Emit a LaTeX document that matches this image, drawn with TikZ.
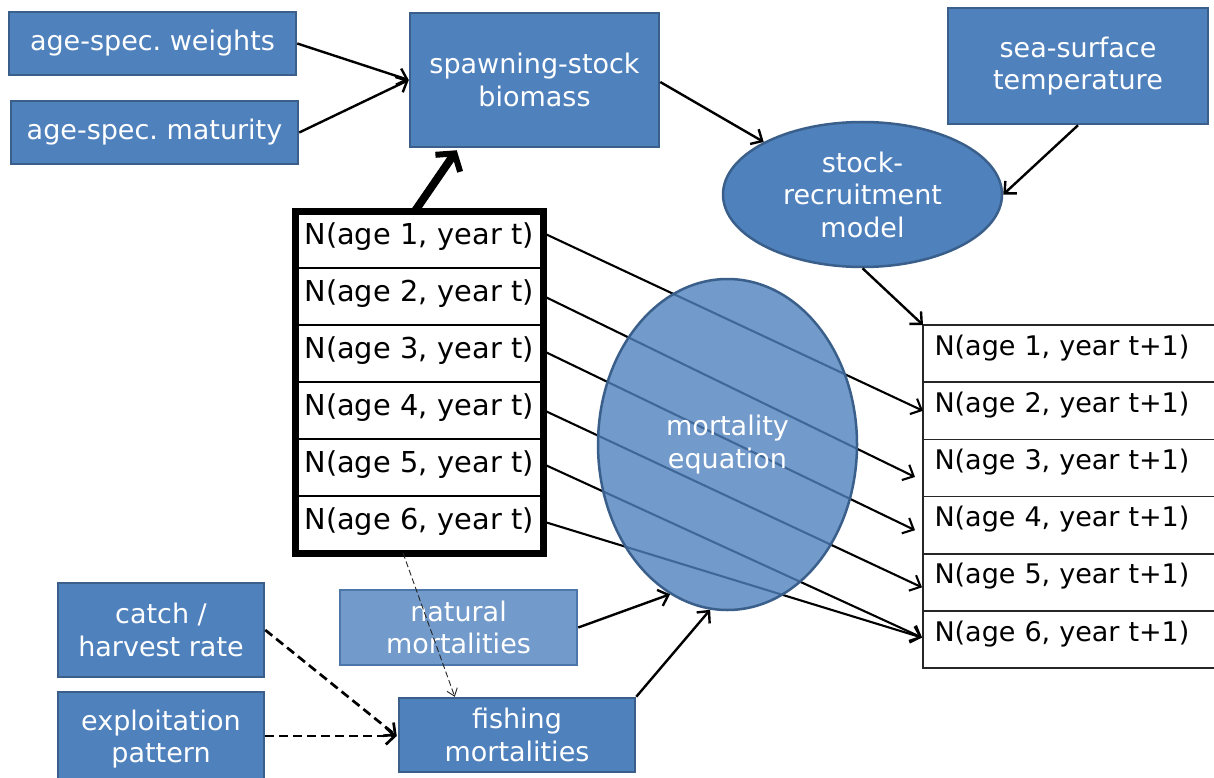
\documentclass[tikz,border=0pt]{standalone}
\usepackage{fontspec}
\setmainfont{DejaVu Sans}
\usetikzlibrary{arrows.meta,calc,fit,shapes.geometric}
\definecolor{boxblue}{HTML}{4F81BD}
\definecolor{boxedge}{HTML}{3A5F8B}
\definecolor{lightedge}{HTML}{4D77AB}
\frenchspacing
\begin{document}
\begin{tikzpicture}[x=1pt,y=-1pt,
  bigtext/.style={font=\fontsize{27pt}{32.5pt}\selectfont},
  rowtext/.style={font=\fontsize{28.8pt}{34pt}\selectfont},
  bluebox/.style={rectangle, draw=boxedge, fill=boxblue, line width=2.5pt, text=white, align=center, inner sep=0pt, bigtext},
  blueell/.style={ellipse, draw=boxedge, fill=boxblue, line width=2.5pt, text=white, align=center, inner sep=0pt, bigtext},
  lrow/.style={rectangle, draw=black, line width=1.5pt, outer sep=0pt, minimum width=248pt, minimum height=57pt, text width=235pt, inner xsep=6.5pt, inner ysep=0pt, text height=33pt, text depth=24pt, align=left, rowtext, execute at begin node={\hspace*{3pt}}},
  rrow/.style={rectangle, draw=black!85, line width=1.5pt, outer sep=0pt, minimum width=337pt, minimum height=57.2pt, text width=314pt, inner xsep=11.5pt, inner ysep=0pt, text height=30pt, text depth=27.2pt, align=left, bigtext},
  arr/.style={-{Straight Barb[length=9pt,width=17pt]}, line width=2.4pt, black},
  rowarr/.style={-{Straight Barb[length=9pt,width=17pt]}, line width=2.1pt, black},
  dasharr/.style={-{Straight Barb[length=9pt,width=17pt]}, line width=2.7pt, dash pattern=on 9pt off 5pt, black},
  thindash/.style={-{Straight Barb[length=7pt,width=11pt]}, line width=0.9pt, dash pattern=on 6pt off 3pt, black!85},
  bigarr/.style={-{Straight Barb[length=12pt,width=30pt,line width=6pt]}, line width=8pt, black}
]
\clip (0,0) rectangle (1214,778);
\fill[white] (0,0) rectangle (1214,778);

% top-left inputs
\node[bluebox, minimum width=287pt, minimum height=63pt] (wts) at (152.5,43.5) {age-spec. weights};
\node[bluebox, minimum width=287pt, minimum height=63pt] (mat) at (154.5,132.5) {age-spec. maturity};
\node[bluebox, minimum width=249pt, minimum height=134pt] (ssb) at (534.5,80) {spawning-stock\\biomass};
\node[bluebox, minimum width=260pt, minimum height=116pt] (sst) at (1078,66) {sea-surface\\temperature};
\node[blueell, minimum width=279pt, minimum height=145pt] (sr) at (862.5,194.5) {stock-\\recruitment\\model};

% left table (year t)
\node[lrow] (l1) at (419,239.5) {N(age 1, year t)};
\node[lrow] (l2) at (419,296.5) {N(age 2, year t)};
\node[lrow] (l3) at (419,353.5) {N(age 3, year t)};
\node[lrow] (l4) at (419,410.5) {N(age 4, year t)};
\node[lrow] (l5) at (419,467.5) {N(age 5, year t)};
\node[lrow] (l6) at (419,524.5) {N(age 6, year t)};
\node[draw=black, line width=7pt, inner sep=0pt, outer sep=0pt, fit=(l1)(l6)] (ltab) {};

% right table (year t+1)
\node[rrow] (r1) at (1091.5,353.6) {N(age 1, year t+1)};
\node[rrow] (r2) at (1091.5,410.8) {N(age 2, year t+1)};
\node[rrow] (r3) at (1091.5,468.0) {N(age 3, year t+1)};
\node[rrow] (r4) at (1091.5,525.2) {N(age 4, year t+1)};
\node[rrow] (r5) at (1091.5,582.4) {N(age 5, year t+1)};
\node[rrow] (r6) at (1091.5,639.6) {N(age 6, year t+1)};

% age transitions
\draw[rowarr] ($(l1.east)+(3.5,-5)$) -- (r2.west);
\draw[rowarr] ($(l2.east)+(3.5,1)$) -- ($(r3.west)+(-8,9)$);
\draw[rowarr] ($(l3.east)+(3.5,-1)$) -- ($(r4.west)+(-8,5)$);
\draw[rowarr] ($(l4.east)+(3.5,1)$) -- ($(r5.west)+(-1,5)$);
\draw[rowarr] ($(l5.east)+(3.5,-2)$) -- ($(r6.west)+(-1,-2)$);
\draw[rowarr] ($(l6.east)+(3.5,-2)$) -- ($(r6.west)+(-1,-2)$);

% mortality equation (semi-transparent)
\node[ellipse, draw=boxedge, fill=boxblue, fill opacity=0.8, draw opacity=1, text opacity=1, line width=2.5pt, minimum width=259pt, minimum height=331pt, inner sep=0pt, text=white, align=center, bigtext] (me) at (727.5,444.5) {mortality\\equation};

% bottom boxes
\node[bluebox, minimum width=206pt, minimum height=94pt] (catch) at (161,630) {catch /\\harvest rate};
\node[bluebox, minimum width=206pt, minimum height=94pt] (expl) at (161,739) {exploitation\\pattern};
\node[bluebox, draw=lightedge, fill opacity=0.8, text opacity=1, minimum width=237pt, minimum height=75pt] (nat) at (458.5,627.5) {natural\\mortalities};
\node[bluebox, minimum width=236pt, minimum height=74pt] (fish) at (517,735) {fishing\\mortalities};

% connectors
\draw[arr] (wts.east) -- (ssb.west);
\draw[arr] (mat.east) -- (ssb.west);
\draw[arr] ($(ssb.east)+(0,2)$) -- (sr.152);
\draw[arr] (sst.south) -- (sr.east);
\draw[arr] (sr.south) -- (r1.north west);
\draw[bigarr] ($(ltab.north)+(-4,0)$) -- ($(ssb.south west)+(48,2)$);
\draw[arr] (nat.east) -- (me.249);
\draw[arr] (fish.north east) -- (me.264);
\draw[dasharr] (catch.east) -- ($(fish.west)+(-1,1)$);
\draw[dasharr] ($(expl.east)+(0,-3)$) -- ($(fish.west)+(-1,1)$);
\draw[thindash] ($(ltab.south)+(-16,0)$) -- ($(fish.north west)+(57,0)$);
\end{tikzpicture}
\end{document}
